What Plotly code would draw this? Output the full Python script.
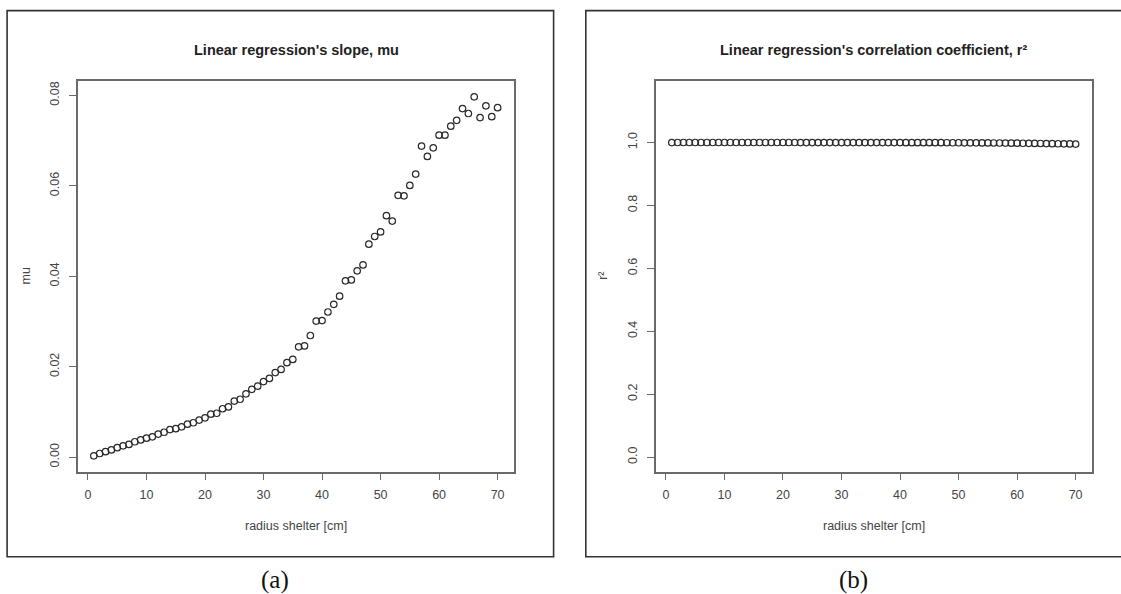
import plotly.graph_objects as go

# Shelter radius [cm]
radius = list(range(1, 71))

# Slope of the linear regression for each radius
mu = [
    0.0003, 0.0008, 0.0012, 0.0016, 0.0021, 0.0025, 0.0028, 0.0034, 0.0038, 0.0042,
    0.0045, 0.0051, 0.0055, 0.0061, 0.0063, 0.0067, 0.0073, 0.0076, 0.0082, 0.0087,
    0.0095, 0.0097, 0.0107, 0.0111, 0.0124, 0.0128, 0.0140, 0.0150, 0.0157, 0.0167,
    0.0174, 0.0187, 0.0194, 0.0209, 0.0216, 0.0244, 0.0246, 0.0269, 0.0301, 0.0302,
    0.0321, 0.0338, 0.0356, 0.0390, 0.0392, 0.0412, 0.0425, 0.0471, 0.0488, 0.0498,
    0.0534, 0.0522, 0.0579, 0.0578, 0.0601, 0.0626, 0.0688, 0.0665, 0.0684, 0.0712,
    0.0712, 0.0732, 0.0745, 0.0771, 0.0760, 0.0797, 0.0751, 0.0777, 0.0753, 0.0773,
]

# Squared correlation coefficient of the linear regression for each radius
r2 = [
    0.9998, 0.9999, 0.9999, 0.9999, 0.9999, 0.9999, 0.9999, 0.9999, 0.9999, 0.9999,
    0.9999, 0.9999, 0.9999, 0.9999, 0.9999, 0.9999, 0.9999, 0.9999, 0.9999, 0.9999,
    0.9999, 0.9999, 0.9998, 0.9998, 0.9998, 0.9998, 0.9998, 0.9998, 0.9998, 0.9998,
    0.9998, 0.9997, 0.9997, 0.9997, 0.9997, 0.9997, 0.9996, 0.9996, 0.9996, 0.9996,
    0.9995, 0.9995, 0.9995, 0.9994, 0.9994, 0.9993, 0.9993, 0.9992, 0.9991, 0.9991,
    0.9990, 0.9989, 0.9988, 0.9987, 0.9986, 0.9984, 0.9983, 0.9981, 0.9979, 0.9977,
    0.9975, 0.9973, 0.9970, 0.9968, 0.9965, 0.9962, 0.9959, 0.9956, 0.9953, 0.9950,
]

x_ticks = [0, 10, 20, 30, 40, 50, 60, 70]
mu_ticks = [0.00, 0.02, 0.04, 0.06, 0.08]
r2_ticks = [0.0, 0.2, 0.4, 0.6, 0.8, 1.0]

W, H = 1121, 594
SANS = "Liberation Sans, Arial, Helvetica, sans-serif"
SERIF = "Liberation Serif, Times New Roman, serif"


def px(v):
    return v / W


def py(v):
    return 1 - v / H


marker = dict(symbol="circle-open", size=6.5, color="#2a2a2a", line=dict(width=1.2, color="#2a2a2a"))

fig = go.Figure()
fig.add_trace(go.Scatter(x=radius, y=mu, mode="markers", marker=marker, xaxis="x", yaxis="y",
                         showlegend=False, hoverinfo="x+y"))
fig.add_trace(go.Scatter(x=radius, y=r2, mode="markers", marker=marker, xaxis="x2", yaxis="y2",
                         showlegend=False, hoverinfo="x+y"))

axis_common = dict(
    showline=True, mirror=True, linecolor="#6a6a6a", linewidth=1.5,
    ticks="outside", ticklen=7, tickwidth=1.2, tickcolor="#6a6a6a",
    showgrid=False, zeroline=False,
    tickfont=dict(family=SANS, size=12.5, color="#444444"),
)

ydom = [py(471.6), py(80.5)]

fig.update_layout(
    width=W, height=H,
    margin=dict(l=0, r=0, t=0, b=0),
    paper_bgcolor="white", plot_bgcolor="white",
    xaxis=dict(domain=[px(77.9), px(514.3)], range=[-1.72, 72.85], tickvals=x_ticks,
               anchor="y", ticklabelstandoff=4, **axis_common),
    yaxis=dict(domain=ydom, range=[-0.0032, 0.0833], tickvals=mu_ticks, tickformat=".2f",
               tickangle=-90, anchor="x", ticklabelstandoff=5, **axis_common),
    xaxis2=dict(domain=[px(655.5), px(1092.0)], range=[-1.78, 72.8], tickvals=x_ticks,
                anchor="y2", ticklabelstandoff=4, **axis_common),
    yaxis2=dict(domain=ydom, range=[-0.046, 1.197], tickvals=r2_ticks, tickformat=".1f",
                tickangle=-90, anchor="x2", ticklabelstandoff=5, **axis_common),
)

# Outer frames around each panel
for x0, x1 in [(7.1, 553.6), (585.8, 1125.0)]:
    fig.add_shape(type="rect", xref="paper", yref="paper",
                  x0=px(x0), x1=px(x1), y0=py(556.8), y1=py(10.6),
                  line=dict(color="#333333", width=1.6), fillcolor="rgba(0,0,0,0)")

annotations = [
    # panel titles
    dict(text="<b>Linear regression's slope, mu</b>", x=px(296.1), y=py(50.4),
         font=dict(family=SANS, size=14.5, color="#222222")),
    dict(text="<b>Linear regression's correlation coefficient, r²</b>", x=px(873.8), y=py(50.4),
         font=dict(family=SANS, size=14.5, color="#222222")),
    # x axis titles
    dict(text="radius shelter [cm]", x=px(296.1), y=py(525.8),
         font=dict(family=SANS, size=12.5, color="#444444")),
    dict(text="radius shelter [cm]", x=px(873.8), y=py(525.8),
         font=dict(family=SANS, size=12.5, color="#444444")),
    # y axis titles
    dict(text="mu", x=px(25.7), y=py(275.8), textangle=-90,
         font=dict(family=SANS, size=12.5, color="#444444")),
    dict(text="r²", x=px(603.0), y=py(275.8), textangle=-90,
         font=dict(family=SANS, size=12.5, color="#444444")),
    # sub-figure captions
    dict(text="(a)", x=px(275.0), y=py(580.0),
         font=dict(family=SERIF, size=25, color="#111111")),
    dict(text="(b)", x=px(853.4), y=py(580.0),
         font=dict(family=SERIF, size=25, color="#111111")),
]
for a in annotations:
    a.update(xref="paper", yref="paper", showarrow=False, xanchor="center", yanchor="middle")
    fig.add_annotation(**a)

fig.write_html("out.html")
